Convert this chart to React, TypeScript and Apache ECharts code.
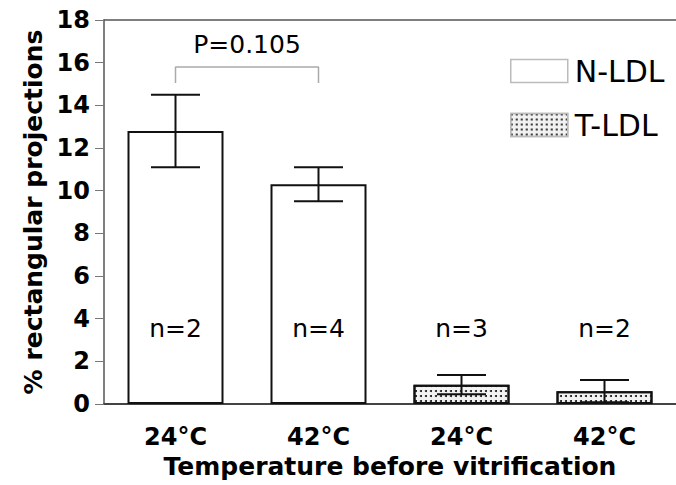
import React, { useEffect, useRef } from "react";
import * as echarts from "echarts";

const categories = ["24°C", "42°C", "24°C", "42°C"];
const nLdl: (number | string)[] = [12.8, 10.3, "-", "-"];
const tLdl: (number | string)[] = ["-", "-", 0.9, 0.6];
const errLow = [11.1, 9.5, 0.46, 0.08];
const errHigh = [14.5, 11.1, 1.36, 1.12];
const nLabels = ["n=2", "n=4", "n=3", "n=2"];
const nLabelY = 3.56;
const yTicks = { min: 0, max: 18, interval: 2 };
const bracket = [[0, 15.05], [0, 15.8], [1, 15.8], [1, 15.05]];
const pLabel = { x: 0.5, y: 16.85, text: "P=0.105" };

const FONT = "DejaVu Sans";

export default function App() {
  const ref = useRef<HTMLDivElement>(null);
  useEffect(() => {
    if (!ref.current) return;
    const chart = echarts.init(ref.current, undefined, { renderer: "svg" });
    const decal = {
      symbol: "circle",
      symbolSize: 1,
      color: "#111",
      backgroundColor: "#f2f2f2",
      dashArrayX: [[1.4, 2.2]],
      dashArrayY: [1.4, 2.2],
      rotation: 0,
    };
    const labelStyle = {
      show: true,
      position: "inside",
      fontSize: 25,
      color: "#000",
      opacity: 1,
      textBorderWidth: 0,
      fontFamily: FONT,
    };
    chart.setOption({
      animation: false,
      textStyle: { fontFamily: FONT },
      grid: { left: 104, top: 20, width: 574, height: 384 },
      legend: {
        orient: "vertical",
        left: 505,
        top: 51,
        itemWidth: 57,
        itemHeight: 23,
        itemGap: 24,
        textStyle: { fontSize: 30, color: "#000", fontFamily: FONT, padding: [0, 0, 0, 2] },
        data: [
          { name: "N-LDL", icon: "rect", itemStyle: { color: "#fff", borderColor: "#bbb", borderWidth: 1.5 } },
          { name: "T-LDL", icon: "rect", itemStyle: { color: "#f2f2f2", borderColor: "#bbb", borderWidth: 1.5, decal } },
        ],
      },
      xAxis: [
        {
          type: "category",
          data: categories,
          position: "bottom",
          axisLine: { onZero: false, lineStyle: { color: "#444", width: 2 } },
          axisTick: { show: false },
          axisLabel: { fontSize: 24, fontWeight: "bold", color: "#000", margin: 21, fontFamily: FONT },
          name: "Temperature before vitrification",
          nameLocation: "middle",
          nameGap: 50,
          nameTextStyle: { fontSize: 25, fontWeight: "bold", color: "#000", fontFamily: FONT },
        },
        {
          type: "value",
          min: -0.5,
          max: 3.5,
          position: "top",
          axisLine: { show: true, onZero: false, lineStyle: { color: "#555", width: 1.5 } },
          axisTick: { show: false },
          axisLabel: { show: false },
          splitLine: { show: false },
        },
      ],
      yAxis: {
        type: "value",
        min: yTicks.min,
        max: yTicks.max,
        interval: yTicks.interval,
        position: "left",
        axisLine: { show: true, onZero: false, lineStyle: { color: "#555", width: 1.5 } },
        axisTick: { show: true, length: 9, lineStyle: { color: "#777", width: 1 } },
        splitLine: { show: false },
        axisLabel: { fontSize: 24, fontWeight: "bold", color: "#000", margin: 14, fontFamily: FONT },
        name: "% rectangular projections",
        nameLocation: "middle",
        nameGap: 52,
        nameTextStyle: { fontSize: 25, fontWeight: "bold", color: "#000", fontFamily: FONT },
      },
      series: [
        {
          name: "N-LDL",
          type: "bar",
          data: nLdl,
          barWidth: 96,
          barGap: "-100%",
          itemStyle: { color: "#fff", borderColor: "#111", borderWidth: 2 },
        },
        {
          name: "T-LDL",
          type: "bar",
          data: tLdl,
          barWidth: 96,
          barGap: "-100%",
          itemStyle: { color: "#f2f2f2", borderColor: "#111", borderWidth: 2, decal },
        },
        {
          type: "custom",
          name: "err",
          data: errLow.map((l, i) => [i, l, errHigh[i]]),
          encode: { x: 0, y: [1, 2] },
          z: 10,
          renderItem: (params: any, api: any) => {
            const i = api.value(0);
            const lo = api.coord([i, api.value(1)]);
            const hi = api.coord([i, api.value(2)]);
            const hw = 24.5;
            const style = { stroke: "#111", lineWidth: 2 };
            return {
              type: "group",
              children: [
                { type: "line", shape: { x1: hi[0], y1: hi[1], x2: lo[0], y2: lo[1] }, style },
                { type: "line", shape: { x1: hi[0] - hw, y1: hi[1], x2: hi[0] + hw, y2: hi[1] }, style },
                { type: "line", shape: { x1: lo[0] - hw, y1: lo[1], x2: lo[0] + hw, y2: lo[1] }, style },
              ],
            };
          },
        },
        {
          type: "scatter",
          name: "n",
          data: nLabels.map((t, i) => ({ value: [i, nLabelY], label: { formatter: t } })),
          symbolSize: 0.1,
          itemStyle: { color: "#fff" },
          label: labelStyle,
          silent: true,
          z: 12,
        },
        {
          type: "line",
          name: "bracket",
          xAxisIndex: 1,
          data: bracket,
          symbol: "none",
          lineStyle: { color: "#aaa", width: 1.5 },
          silent: true,
        },
        {
          type: "scatter",
          name: "p",
          xAxisIndex: 1,
          data: [{ value: [pLabel.x, pLabel.y], label: { formatter: pLabel.text } }],
          symbolSize: 0.1,
          itemStyle: { color: "#fff" },
          label: labelStyle,
          silent: true,
          z: 12,
        },
      ],
    });
    return () => chart.dispose();
  }, []);
  return <div ref={ref} style={{ position: "absolute", left: 0, top: 0, width: 676, height: 485 }} />;
}
